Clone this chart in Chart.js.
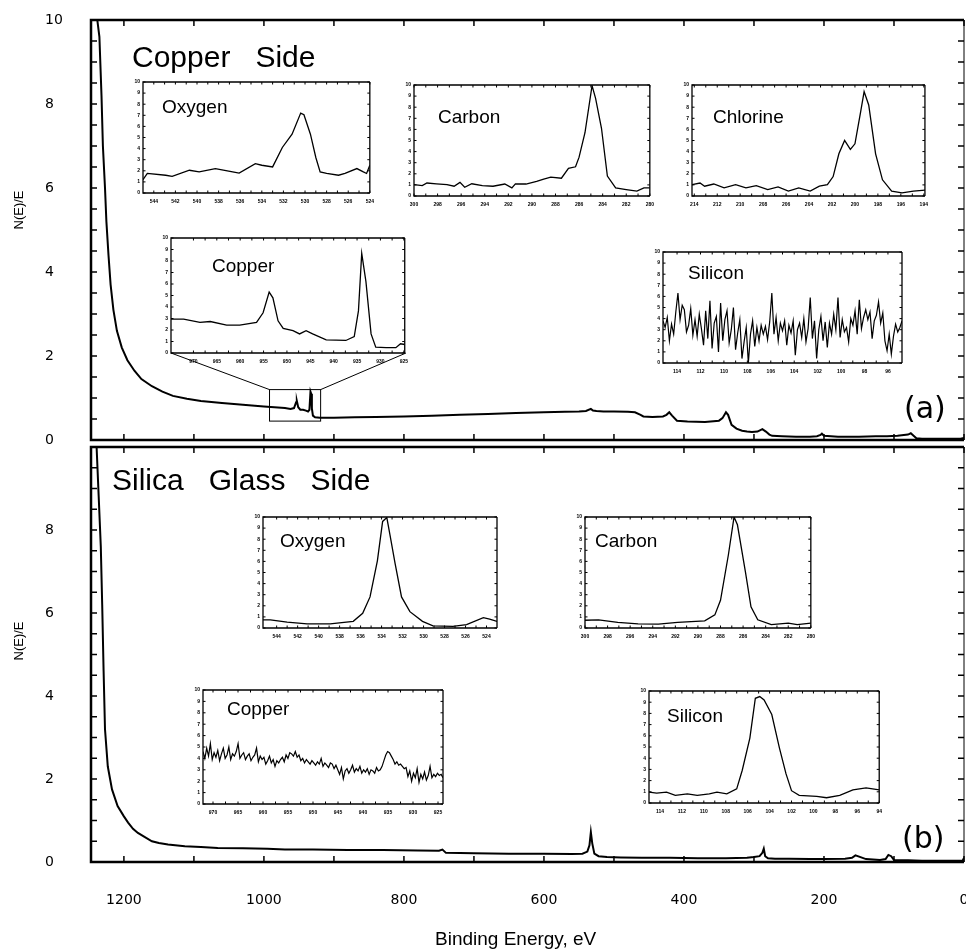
<!DOCTYPE html>
<html>
<head>
<meta charset="utf-8">
<script src="https://cdn.jsdelivr.net/npm/chart.js@4.4.1/dist/chart.umd.min.js"></script>
<style>
body { margin: 0; background: #fff; }
#wrap { position: relative; width: 966px; height: 949px; overflow: hidden; background: #fff; }
canvas { position: absolute; }
.t { position: absolute; font-family: "Liberation Sans", Arial, sans-serif; color: #000; white-space: pre; line-height: 1; }
</style>
</head>
<body>
<div id="wrap"></div>
<script>
// survey spectra (binding energy eV, N(E)/E)
const aEnergy = [1247, 1244, 1241, 1238, 1235, 1232, 1230, 1227, 1225, 1222, 1219, 1215, 1210, 1203, 1195, 1185, 1175, 1160, 1145, 1130, 1110, 1090, 1060, 1030, 1000, 985, 970, 962, 957, 954, 953, 951, 948, 944, 940, 937, 935, 933.5, 932.5, 931.5, 930, 927, 920, 900, 870, 840, 800, 760, 720, 680, 640, 600, 570, 550, 540, 533, 530, 525, 515, 500, 480, 470, 462, 458, 445, 430, 425, 421, 417, 410, 395, 370, 350, 345, 340, 337, 332, 325, 317, 310, 303, 295, 288, 283, 278, 274, 260, 240, 220, 210, 205, 203, 200, 180, 150, 126, 110, 95, 80, 76, 72, 68, 60, 40, 20, 5, 0]
const aCounts = [10, 10, 10, 10, 9.6, 8.2, 7.0, 6.0, 5.2, 4.4, 3.7, 3.1, 2.6, 2.2, 1.9, 1.65, 1.45, 1.28, 1.15, 1.05, 0.98, 0.93, 0.88, 0.84, 0.8, 0.78, 0.76, 0.74, 0.76, 0.9, 0.93, 0.78, 0.72, 0.72, 0.7, 0.68, 0.72, 1.15, 1.1, 0.75, 0.58, 0.54, 0.53, 0.53, 0.54, 0.55, 0.56, 0.58, 0.6, 0.62, 0.64, 0.66, 0.67, 0.68, 0.69, 0.74, 0.7, 0.69, 0.68, 0.68, 0.67, 0.66, 0.6, 0.56, 0.55, 0.56, 0.6, 0.66, 0.58, 0.46, 0.44, 0.43, 0.46, 0.52, 0.66, 0.6, 0.36, 0.27, 0.22, 0.2, 0.19, 0.2, 0.26, 0.2, 0.13, 0.1, 0.09, 0.08, 0.08, 0.09, 0.12, 0.15, 0.1, 0.08, 0.08, 0.09, 0.09, 0.1, 0.13, 0.16, 0.1, 0.04, 0.03, 0.03, 0.03, 0.03, 0.05]
const bEnergy = [1247, 1243, 1239, 1236, 1233, 1231, 1229, 1227, 1223, 1217, 1209, 1200, 1194, 1187, 1180, 1170, 1160, 1150, 1137, 1113, 1090, 1066, 1030, 995, 970, 930, 880, 830, 780, 750, 745, 740, 700, 650, 600, 560, 545, 538, 535, 533, 531, 528, 522, 510, 490, 460, 420, 380, 340, 310, 300, 292, 288, 286, 284, 280, 270, 250, 220, 200, 170, 160, 155, 140, 120, 112, 108, 104, 100, 80, 60, 30, 10, 2, 0]
const bCounts = [10, 10, 10, 8.8, 7.6, 6.2, 4.6, 3.2, 2.3, 1.75, 1.35, 1.1, 0.95, 0.8, 0.7, 0.6, 0.5, 0.46, 0.42, 0.38, 0.36, 0.34, 0.33, 0.32, 0.3, 0.3, 0.29, 0.29, 0.28, 0.27, 0.3, 0.22, 0.21, 0.2, 0.2, 0.19, 0.2, 0.25, 0.4, 0.72, 0.45, 0.2, 0.14, 0.12, 0.11, 0.1, 0.1, 0.09, 0.09, 0.1, 0.12, 0.14, 0.22, 0.32, 0.14, 0.09, 0.08, 0.08, 0.07, 0.07, 0.08, 0.1, 0.16, 0.07, 0.05, 0.07, 0.17, 0.14, 0.05, 0.04, 0.03, 0.03, 0.03, 0.03, 0.1]
const surveyTicks = [0, 100, 200, 300, 400, 500, 600, 700, 800, 900, 1000, 1100, 1200]
const surveyLabels = [0, 200, 400, 600, 800, 1000, 1200]
const nTicks = [0.5, 1, 1.5, 2, 2.5, 3, 3.5, 4, 4.5, 5, 5.5, 6, 6.5, 7, 7.5, 8, 8.5, 9, 9.5]
const zoomE = [992, 919]
const zoomN = [0.45, 1.2]

// copper side insets
const oxyAE = [545, 544.6, 542.9, 542.3, 540.7, 539.8, 538.3, 536.7, 536.1, 534.6, 534, 533, 532.1, 531.2, 530.4, 530.1, 529.5, 529, 528.6, 528, 526.9, 526.3, 525.2, 524.6, 524.3, 524]
const oxyAN = [1.2, 1.76, 1.6, 1.5, 2.05, 1.9, 2.2, 1.9, 1.8, 2.65, 2.5, 2.35, 4.1, 5.3, 7.2, 7.05, 5.3, 3.2, 1.9, 1.76, 1.6, 1.76, 2.2, 1.9, 1.76, 2.5]
const oxyATicks = [544, 542, 540, 538, 536, 534, 532, 530, 528, 526, 524]
const carbAE = [300, 299.3, 298.9, 298.1, 297.2, 296.6, 296.1, 295.7, 295.1, 294.2, 293.3, 292.3, 291.7, 291.4, 290.5, 289.6, 289, 288.4, 287.5, 286.9, 286.3, 286, 285.5, 284.9, 284.6, 284.1, 283.6, 282.9, 282, 281.1, 280.5, 280]
const carbAN = [1.02, 0.94, 1.17, 1.1, 1.02, 0.88, 1.23, 0.79, 1.1, 0.94, 0.88, 1.08, 0.73, 1.1, 1.08, 1.32, 1.52, 1.7, 1.6, 2.5, 2.63, 3.5, 5.7, 9.94, 8.8, 6.1, 1.8, 0.73, 0.58, 0.44, 0.73, 0.73]
const carbATicks = [300, 298, 296, 294, 292, 290, 288, 286, 284, 282, 280]
const chlAE = [214.2, 213.5, 213.1, 212.3, 211.4, 210.4, 209.5, 208.6, 207.6, 206.7, 205.8, 204.9, 203.9, 203.1, 202.4, 201.9, 201.4, 200.9, 200.4, 200, 199.5, 199.2, 198.8, 198.2, 197.6, 196.8, 195.9, 194.9, 193.9]
const chlAN = [1.02, 1.17, 0.88, 1.08, 0.73, 1.02, 0.73, 0.94, 0.58, 0.82, 0.44, 0.73, 0.44, 0.88, 1.02, 1.75, 3.8, 5.0, 4.2, 4.7, 7.6, 9.4, 8.2, 3.8, 1.46, 0.44, 0.29, 0.44, 0.53]
const chlATicks = [214, 212, 210, 208, 206, 204, 202, 200, 198, 196, 194]
const cuAE = [974.8, 972.1, 968.6, 966.4, 962.9, 960.1, 956.5, 955.1, 953.8, 953, 951.9, 950.8, 948.7, 947.3, 945.9, 944.5, 941.6, 937.4, 935.6, 934.7, 934, 933.1, 932, 931, 928.8, 926.7, 925.7, 924.8]
const cuAN = [2.94, 2.94, 2.66, 2.74, 2.43, 2.43, 2.66, 3.5, 5.3, 4.8, 2.8, 2.14, 1.94, 1.66, 1.94, 1.66, 1.14, 1.09, 1.43, 3.66, 8.66, 6.2, 1.66, 0.51, 0.46, 0.46, 0.8, 0.74]
const cuATicks = [970, 965, 960, 955, 950, 945, 940, 935, 930, 925]
const siARange = [115.2, 94.8]
const siAN = [3.8, 3.2, 4.1, 2.0, 3.5, 2.6, 4.6, 6.3, 3.9, 5.2, 4.8, 2.8, 3.4, 4.9, 2.5, 3.9, 2.4, 4.4, 3.1, 1.6, 4.7, 2.2, 5.6, 1.3, 3.6, 4.2, 1.0, 5.4, 2.0, 3.9, 4.7, 1.8, 3.0, 5.0, 1.2, 2.7, 3.9, 0.4, 1.9, 3.2, 0.0, 2.6, 3.8, 1.5, 3.2, 2.0, 3.4, 2.6, 3.3, 2.1, 3.7, 6.3, 2.6, 4.1, 2.0, 3.6, 2.9, 3.8, 1.6, 3.4, 2.7, 3.8, 0.7, 3.0, 3.6, 2.3, 4.0, 1.9, 3.1, 5.9, 2.2, 3.8, 0.4, 3.0, 4.2, 2.0, 3.7, 1.4, 3.6, 2.6, 4.4, 3.0, 5.9, 2.3, 3.9, 2.8, 3.2, 1.9, 4.0, 3.4, 4.7, 2.6, 5.7, 3.1, 4.1, 4.8, 3.9, 4.6, 2.2, 3.8, 4.3, 5.5, 3.6, 4.5, 2.0, 1.1, 2.6, 0.8, 2.4, 3.5, 2.8, 3.2, 3.8]
const siATicks = [114, 112, 110, 108, 106, 104, 102, 100, 98, 96]

// silica glass side insets
const oxyBE = [545.3, 544.6, 543, 541.1, 538.9, 536.7, 535.8, 535.1, 534.4, 533.9, 533.5, 533.2, 532.7, 532.1, 531.3, 530.1, 529.1, 527.2, 525.9, 524.3, 523.7, 523]
const oxyBN = [0.74, 0.74, 0.53, 0.38, 0.38, 0.6, 1.33, 2.8, 6.05, 9.6, 9.95, 8.4, 5.75, 2.8, 1.47, 0.6, 0.2, 0.15, 0.3, 0.94, 0.8, 0.6]
const oxyBTicks = [544, 542, 540, 538, 536, 534, 532, 530, 528, 526, 524]
const carbBE = [300, 298.8, 297.1, 295.3, 293.5, 291.8, 289.4, 288.5, 288, 287.3, 286.8, 286.5, 285.8, 285.3, 284.7, 283.5, 282, 281.2, 280]
const carbBN = [0.7, 0.74, 0.5, 0.38, 0.35, 0.5, 0.65, 1.18, 2.5, 6.6, 10, 9.3, 5.1, 1.9, 0.74, 0.3, 0.44, 0.3, 0.44]
const carbBTicks = [300, 298, 296, 294, 292, 290, 288, 286, 284, 282, 280]
const cuBRange = [972, 924]
const cuBN = [4.6, 4.0, 4.9, 4.2, 5.3, 3.9, 4.5, 4.1, 4.7, 3.8, 4.4, 4.9, 4.0, 4.3, 5.0, 3.9, 4.4, 4.2, 4.6, 5.3, 4.0, 4.3, 4.5, 3.9, 4.2, 4.4, 3.8, 4.1, 4.3, 4.9, 3.7, 4.2, 3.9, 4.1, 3.5, 3.8, 4.2, 3.6, 3.9, 3.3, 3.8, 3.6,
  3.9, 4.1, 3.7, 4.3, 4.0, 4.5, 4.4, 4.2, 4.6, 4.1, 4.3, 3.8, 4.0, 3.6, 3.9, 3.7, 3.5, 3.8,
  3.6, 3.4, 3.7, 3.5, 4.0, 3.3, 3.6, 3.4, 3.2, 3.6, 3.5, 3.1, 3.4, 3.0, 2.6, 3.2, 2.2, 2.9, 3.1, 2.7, 3.0, 3.4, 2.8, 3.1, 2.9, 3.3, 2.7, 3.0, 2.8, 3.1, 2.6, 3.0, 2.9, 2.7, 3.2, 2.9,
  3.0, 3.3, 3.8, 4.3, 4.6, 4.5, 4.2, 3.9, 3.5, 3.7, 3.4, 3.5, 3.3, 3.1, 3.2,
  2.4, 2.9, 2.0, 2.7, 2.3, 3.1, 1.9, 2.6, 2.2, 2.8, 2.1, 2.5, 3.3, 2.3, 2.6, 2.4, 2.7, 2.5, 2.6, 2.3]
const cuBTicks = [970, 965, 960, 955, 950, 945, 940, 935, 930, 925]
const siBE = [115, 114.3, 113.4, 112.6, 111.5, 110.6, 109.5, 108.8, 107.9, 107, 106.5, 105.8, 105.3, 104.9, 104.5, 103.8, 103.1, 102.5, 102, 101.3, 99.7, 98.8, 97.6, 96.4, 95.2, 94]
const siBN = [0.97, 0.88, 0.97, 0.68, 0.82, 0.68, 0.82, 0.97, 0.82, 1.26, 2.9, 5.8, 9.35, 9.5, 9.2, 7.9, 4.9, 2.6, 1.1, 0.68, 0.6, 0.47, 0.68, 1.18, 1.35, 1.18]
const siBTicks = [114, 112, 110, 108, 106, 104, 102, 100, 98, 96, 94]
const insetN = [0, 1, 2, 3, 4, 5, 6, 7, 8, 9, 10]

const wrap = document.getElementById("wrap")
Chart.defaults.color = "#000"

const frame = {
  id: "frame",
  afterDatasetsDraw(ch, args, o) {
    const {ctx, chartArea: a, scales: {x, y}} = ch
    ctx.save()
    ctx.strokeStyle = "#000"
    ctx.lineWidth = o.lw
    ctx.beginPath()
    ctx.moveTo(a.right, a.top); ctx.lineTo(a.left, a.top); ctx.lineTo(a.left, a.bottom); ctx.lineTo(a.right, a.bottom)
    ctx.stroke()
    ctx.lineWidth = o.rlw
    ctx.beginPath(); ctx.moveTo(a.right, a.top); ctx.lineTo(a.right, a.bottom); ctx.stroke()
    let xs = o.xt.slice()
    if (o.mid) for (let i = 1; i < o.xt.length; i++) xs.push((o.xt[i - 1] + o.xt[i]) / 2)
    ctx.lineWidth = o.tw
    ctx.beginPath()
    xs.forEach(v => {
      const p = x.getPixelForValue(v)
      ctx.moveTo(p, a.bottom); ctx.lineTo(p, a.bottom - o.len)
      ctx.moveTo(p, a.top); ctx.lineTo(p, a.top + o.len)
    })
    o.yt.forEach(v => {
      const p = y.getPixelForValue(v)
      ctx.moveTo(a.left, p); ctx.lineTo(a.left + o.len, p)
      ctx.moveTo(a.right, p); ctx.lineTo(a.right - o.len, p)
    })
    ctx.stroke()
    if (o.zoom) {
      const x1 = x.getPixelForValue(o.zoom.e[0]), x2 = x.getPixelForValue(o.zoom.e[1])
      const y1 = y.getPixelForValue(o.zoom.n[1]), y2 = y.getPixelForValue(o.zoom.n[0])
      ctx.lineWidth = 1
      ctx.strokeRect(x1, y1, x2 - x1, y2 - y1)
      ctx.beginPath()
      ctx.moveTo(x1, y1); ctx.lineTo(o.zoom.to[0][0], o.zoom.to[0][1])
      ctx.moveTo(x2, y1); ctx.lineTo(o.zoom.to[1][0], o.zoom.to[1][1])
      ctx.stroke()
    }
    ctx.restore()
  }
}

function pts(xs, ys) {
  return ys.map((v, i) => ({x: xs[i], y: v}))
}

function channels(range, ys) {
  // evenly spaced energy channels across the inset window
  const step = (range[0] - range[1]) / (ys.length - 1)
  return ys.map((v, i) => range[0] - i * step)
}

function survey(es, ns, top, showX, extra) {
  const cv = document.createElement("canvas")
  cv.width = 966; cv.height = 949
  cv.style.left = "0px"; cv.style.top = "0px"
  wrap.appendChild(cv)
  new Chart(cv, {
    type: "line",
    data: {datasets: [{data: pts(es, ns), borderColor: "#000", borderWidth: 2, pointRadius: 0, tension: 0}]},
    options: {
      responsive: false, animation: false, events: [],
      layout: {autoPadding: false, padding: {left: 45, top: top, right: 2, bottom: showX ? 0 : 949 - 440}},
      plugins: {
        legend: {display: false}, tooltip: {enabled: false},
        frame: Object.assign({lw: 2.5, rlw: 1, tw: 1.5, len: 6, xt: surveyTicks, yt: nTicks}, extra)
      },
      scales: {
        x: {
          type: "linear", reverse: true, min: 0, max: 1247, display: showX,
          grid: {display: false, drawTicks: false}, border: {display: false},
          afterBuildTicks: s => { s.ticks = surveyLabels.map(v => ({value: v})) },
          afterFit: s => { s.height = showX ? 949 - 862 : 0 },
          ticks: {autoSkip: false, maxRotation: 0, padding: 30, font: {family: "DejaVu Sans", size: 14},
            callback: v => String(v)}
        },
        y: {
          min: 0, max: 10,
          grid: {display: false, drawTicks: false}, border: {display: false},
          afterFit: s => { s.width = 46 },
          ticks: {stepSize: 2, crossAlign: "far", font: {family: "DejaVu Sans", size: 14},
            callback: v => (showX && v === 10) ? "" : String(v)}
        }
      }
    },
    plugins: [frame]
  })
}

function inset(box, xmin, xmax, ticks, xs, ys, lw) {
  const cv = document.createElement("canvas")
  cv.width = box[2] - box[0] + 26; cv.height = box[3] - box[1] + 22
  cv.style.left = (box[0] - 18) + "px"; cv.style.top = (box[1] - 4) + "px"
  wrap.appendChild(cv)
  new Chart(cv, {
    type: "line",
    data: {datasets: [{data: pts(xs, ys), borderColor: "#000", borderWidth: lw, pointRadius: 0, tension: 0}]},
    options: {
      responsive: false, animation: false, events: [],
      layout: {autoPadding: false, padding: {left: 0, top: 4, right: 8, bottom: 0}},
      plugins: {
        legend: {display: false}, tooltip: {enabled: false},
        frame: {lw: 1.3, rlw: 1.3, tw: 1, len: 2.5, xt: ticks, yt: insetN, mid: true}
      },
      scales: {
        x: {
          type: "linear", reverse: true, min: xmin, max: xmax,
          grid: {display: false, drawTicks: false}, border: {display: false},
          afterBuildTicks: s => { s.ticks = ticks.map(v => ({value: v})) },
          afterFit: s => { s.height = 18 },
          ticks: {autoSkip: false, maxRotation: 0, padding: 6, font: {family: "Liberation Sans", size: 5, weight: "bold"},
            callback: v => String(v)}
        },
        y: {
          min: 0, max: 10,
          grid: {display: false, drawTicks: false}, border: {display: false},
          afterBuildTicks: s => { s.ticks = insetN.map(v => ({value: v})) },
          afterFit: s => { s.width = 18 },
          ticks: {autoSkip: false, padding: 3, font: {family: "Liberation Sans", size: 5, weight: "bold"}}
        }
      }
    },
    plugins: [frame]
  })
}

function txt(s, left, base, size, fam) {
  const d = document.createElement("div")
  d.className = "t"
  d.textContent = s
  d.style.left = left + "px"
  d.style.top = (base - 0.846 * size) + "px"
  d.style.fontSize = size + "px"
  if (fam) d.style.fontFamily = fam
  wrap.appendChild(d)
}

function vtxt(s, cx, cy, size) {
  const d = document.createElement("div")
  d.className = "t"
  d.textContent = s
  d.style.left = cx + "px"
  d.style.top = cy + "px"
  d.style.fontSize = size + "px"
  d.style.transform = "translate(-50%, -50%) rotate(-90deg)"
  wrap.appendChild(d)
}

survey(aEnergy, aCounts, 20, false, {zoom: {e: zoomE, n: zoomN, to: [[171, 353], [406, 353]]}})
survey(bEnergy, bCounts, 447, true, {})

inset([143, 80, 372, 193], 524, 545, oxyATicks, oxyAE, oxyAN, 1.3)
inset([414, 83, 652, 196], 280, 300, carbATicks, carbAE, carbAN, 1.3)
inset([692, 83, 926, 196], 193.9, 214.2, chlATicks, chlAE, chlAN, 1.3)
inset([171, 236, 406, 353], 924.8, 974.8, cuATicks, cuAE, cuAN, 1.3)
inset([663, 250, 902, 363], siARange[1], siARange[0], siATicks, channels(siARange, siAN), siAN, 1.2)
inset([263, 515, 497, 628], 523, 545.3, oxyBTicks, oxyBE, oxyBN, 1.3)
inset([585, 515, 813, 628], 280, 300, carbBTicks, carbBE, carbBN, 1.3)
inset([203, 688, 443, 804], cuBRange[1], cuBRange[0], cuBTicks, channels(cuBRange, cuBN), cuBN, 1.2)
inset([649, 689, 880, 803], 94, 115, siBTicks, siBE, siBN, 1.3)

txt("Copper   Side", 132, 67, 30)
txt("Silica   Glass   Side", 112, 490, 30)
txt("(a)", 904, 418, 30, "DejaVu Sans")
txt("(b)", 902, 848, 30, "DejaVu Sans")
txt("Oxygen", 162, 113, 19)
txt("Carbon", 438, 123, 19)
txt("Chlorine", 713, 123, 19)
txt("Copper", 212, 272, 19)
txt("Silicon", 688, 279, 19)
txt("Oxygen", 280, 547, 19)
txt("Carbon", 595, 547, 19)
txt("Copper", 227, 715, 19)
txt("Silicon", 667, 722, 19)
txt("Binding Energy, eV", 435, 945, 19)
vtxt("N(E)/E", 18, 210, 13)
vtxt("N(E)/E", 18, 641, 13)
</script>
</body>
</html>
